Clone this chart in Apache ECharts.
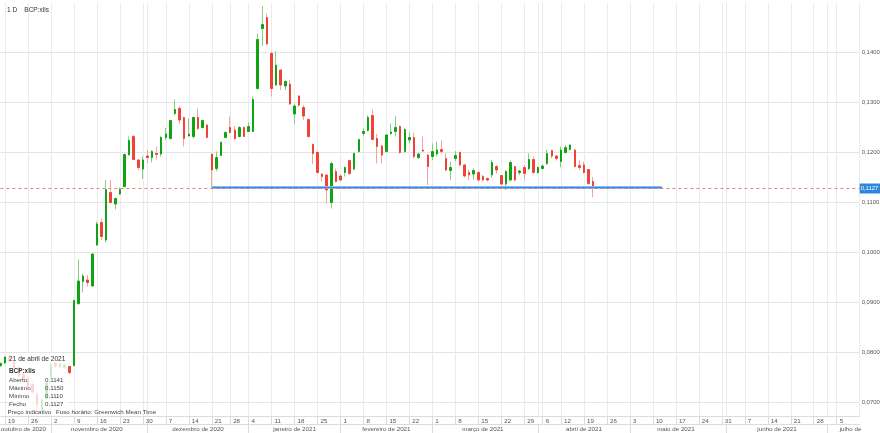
<!DOCTYPE html>
<html><head><meta charset="utf-8">
<script src="https://cdn.jsdelivr.net/npm/echarts@6/dist/echarts.min.js"></script>
<style>html,body{margin:0;padding:0;background:#fff}#c{width:880px;height:433px}</style>
</head><body><div id="c"></div>
<script>
// ---- data ----
const firstTradingDay = '2020-10-16';
const slotCount = 188;               // trading-day slots shown on the axis (incl. future days)
const holidays = ['2020-12-25', '2021-01-01', '2021-04-02', '2021-04-05'];
const symbolName = 'BCP:xlis';
const periodName = '1 D';
const monthNames = ['janeiro','fevereiro','março','abril','maio','junho','julho','agosto','setembro','outubro','novembro','dezembro'];

const opens = [0.0773,0.0778,0.0790,0.0780,0.0770,0.0755,0.0748,0.0735,0.0716,0.0684,
0.0708,0.0750,0.0777,0.0770,0.0769,0.0771,0.0773,0.0897,0.0941,0.0944,
0.0932,0.1014,0.1059,0.1024,0.1119,0.1096,0.1116,0.1131,0.1194,0.1231,
0.1184,0.1166,0.1192,0.1189,0.1197,0.1196,0.1229,0.1227,0.1277,0.1287,
0.1269,0.1232,0.1231,0.1269,0.1249,0.1254,0.1196,0.1167,0.1193,0.1229,
0.1249,0.1244,0.1231,0.1249,0.1241,0.1241,0.1327,0.1447,0.1469,0.1397,
0.1334,0.1364,0.1332,0.1336,0.1276,0.1312,0.1289,0.1265,0.1215,0.1199,
0.1156,0.1154,0.1099,0.1161,0.1152,0.1159,0.1183,0.1166,0.1201,0.1237,
0.1243,0.1273,0.1227,0.1212,0.1201,0.1237,0.1241,0.1251,0.1201,0.1224,
0.1229,0.1189,0.1204,0.1194,0.1191,0.1196,0.1205,0.1187,0.1163,0.1187,
0.1199,0.1174,0.1159,0.1156,0.1159,0.1151,0.1147,0.1154,0.1171,0.1153,
0.1136,0.1144,0.1171,0.1159,0.1169,0.1167,0.1185,0.1159,0.1167,0.1177,
0.1203,0.1192,0.1181,0.1199,0.1205,0.1204,0.1173,0.1174,0.1165,0.1141];
const closes = [0.0777,0.0790,0.0782,0.0768,0.0752,0.0745,0.0731,0.0720,0.0694,0.0704,
0.0738,0.0774,0.0772,0.0776,0.0774,0.0759,0.0903,0.0942,0.0952,0.0939,
0.0996,0.1056,0.1031,0.1125,0.1099,0.1107,0.1125,0.1195,0.1223,0.1185,
0.1169,0.1184,0.1189,0.1201,0.1195,0.1229,0.1236,0.1263,0.1285,0.1264,
0.1227,0.1236,0.1269,0.1247,0.1263,0.1229,0.1164,0.1189,0.1219,0.1239,
0.1239,0.1227,0.1249,0.1231,0.1251,0.1305,0.1425,0.1455,0.1416,0.1327,
0.1374,0.1334,0.1341,0.1296,0.1292,0.1294,0.1272,0.1231,0.1197,0.1159,
0.1151,0.1124,0.1177,0.1141,0.1144,0.1169,0.1157,0.1197,0.1225,0.1241,
0.1269,0.1225,0.1211,0.1194,0.1234,0.1240,0.1249,0.1199,0.1245,0.1229,
0.1191,0.1196,0.1202,0.1171,0.1201,0.1204,0.1201,0.1164,0.1169,0.1193,
0.1174,0.1152,0.1154,0.1163,0.1144,0.1144,0.1144,0.1179,0.1164,0.1136,
0.1161,0.1179,0.1144,0.1162,0.1157,0.1185,0.1159,0.1169,0.1172,0.1197,
0.1192,0.1187,0.1204,0.1209,0.1214,0.1171,0.1169,0.1159,0.1137,0.1127];
const lows = [0.0770,0.0776,0.0779,0.0765,0.0748,0.0741,0.0728,0.0716,0.0680,0.0680,
0.0704,0.0746,0.0768,0.0766,0.0766,0.0756,0.0771,0.0894,0.0919,0.0931,
0.0931,0.1012,0.1024,0.1019,0.1097,0.1085,0.1114,0.1129,0.1194,0.1184,
0.1164,0.1146,0.1177,0.1179,0.1185,0.1191,0.1224,0.1225,0.1274,0.1257,
0.1211,0.1231,0.1227,0.1244,0.1247,0.1229,0.1130,0.1161,0.1192,0.1228,
0.1237,0.1224,0.1229,0.1231,0.1240,0.1240,0.1325,0.1412,0.1414,0.1311,
0.1332,0.1324,0.1324,0.1294,0.1256,0.1290,0.1264,0.1229,0.1176,0.1157,
0.1141,0.1097,0.1087,0.1139,0.1142,0.1151,0.1155,0.1163,0.1199,0.1231,
0.1241,0.1224,0.1177,0.1177,0.1199,0.1234,0.1231,0.1197,0.1199,0.1217,
0.1187,0.1186,0.1200,0.1134,0.1184,0.1191,0.1197,0.1161,0.1144,0.1181,
0.1172,0.1149,0.1144,0.1144,0.1141,0.1141,0.1141,0.1149,0.1157,0.1134,
0.1124,0.1141,0.1141,0.1154,0.1143,0.1164,0.1157,0.1157,0.1165,0.1174,
0.1187,0.1183,0.1169,0.1197,0.1203,0.1169,0.1164,0.1157,0.1134,0.1110];
const highs = [0.0779,0.0792,0.0795,0.0783,0.0774,0.0758,0.0752,0.0740,0.0720,0.0708,
0.0742,0.0778,0.0781,0.0780,0.0777,0.0772,0.0905,0.0985,0.0956,0.0954,
0.0997,0.1061,0.1067,0.1144,0.1144,0.1109,0.1129,0.1197,0.1231,0.1234,
0.1186,0.1191,0.1204,0.1204,0.1211,0.1232,0.1248,0.1264,0.1305,0.1292,
0.1270,0.1267,0.1271,0.1287,0.1265,0.1256,0.1196,0.1201,0.1221,0.1241,
0.1271,0.1252,0.1252,0.1251,0.1259,0.1311,0.1437,0.1492,0.1477,0.1401,
0.1401,0.1365,0.1343,0.1344,0.1297,0.1314,0.1294,0.1267,0.1217,0.1201,
0.1157,0.1155,0.1181,0.1167,0.1155,0.1171,0.1185,0.1199,0.1227,0.1247,
0.1273,0.1285,0.1236,0.1214,0.1236,0.1257,0.1272,0.1253,0.1248,0.1239,
0.1239,0.1198,0.1231,0.1196,0.1217,0.1221,0.1224,0.1197,0.1181,0.1202,
0.1201,0.1176,0.1164,0.1167,0.1161,0.1154,0.1149,0.1184,0.1174,0.1154,
0.1164,0.1183,0.1172,0.1164,0.1174,0.1197,0.1191,0.1171,0.1175,0.1205,
0.1204,0.1194,0.1211,0.1214,0.1215,0.1207,0.1183,0.1181,0.1166,0.1150];

const supportLevel = 0.1129;
const supportFrom = '2020-12-21';
const supportTo = '2021-05-12';
const lastDateLabel = '21 de abril de 2021';
const infoLabels = ['Aberto', 'Máximo', 'Mínimo', 'Fecho'];

// ---- build the trading-day categories ----
function iso(d){ return d.toISOString().slice(0,10); }
const dates = [];
{
  const d = new Date(firstTradingDay + 'T00:00:00Z');
  while (dates.length < slotCount) {
    const dow = d.getUTCDay();
    const s = iso(d);
    if (dow !== 0 && dow !== 6 && holidays.indexOf(s) < 0) dates.push(s);
    d.setUTCDate(d.getUTCDate() + 1);
  }
}
const weekStarts = new Set(), monthStarts = new Set();
for (let i = 1; i < dates.length; i++) {
  const a = new Date(dates[i-1] + 'T00:00:00Z'), b = new Date(dates[i] + 'T00:00:00Z');
  if ((b - a) / 86400000 >= 3 || b.getUTCDay() < a.getUTCDay()) weekStarts.add(i);
  if (a.getUTCMonth() !== b.getUTCMonth()) monthStarts.add(i);
}
const gridSet = new Set([...weekStarts, ...monthStarts]);
const lastSlot = dates.length - 1;
// month labels centred in each month's span (the cut-off last month is shown partially)
const monthLabel = new Map();
{
  const bounds = [0, ...[...monthStarts].sort((a,b)=>a-b), dates.length];
  for (let k = 0; k < bounds.length - 1; k++) {
    const s = bounds[k], e = bounds[k+1];
    const d = new Date(dates[s] + 'T00:00:00Z');
    const cut = k === bounds.length - 2;
    const name = monthNames[d.getUTCMonth()] + ' de' + (cut ? '' : ' ' + d.getUTCFullYear());
    monthLabel.set(Math.floor((s + e) / 2) + (cut ? 1 : 0), name);
  }
}

const fmt = v => v.toFixed(4).replace('.', ',');
const n = opens.length - 1;
const wickData = opens.map((o,i) => [o, closes[i], lows[i], highs[i]]);
const bodyData = opens.map((o,i) => [o, closes[i], Math.min(o, closes[i]), Math.max(o, closes[i])]);
const supportData = [[dates.indexOf(supportFrom), supportLevel], [dates.indexOf(supportTo), supportLevel]];

const FONT = 'Liberation Sans, Arial, sans-serif';
const GREEN = '#12a312', RED = '#ee4336';
const axisGray = '#dcdcdc';

const chart = echarts.init(document.getElementById('c'), null, {renderer: 'canvas', width: 880, height: 433});
chart.setOption({
  animation: false,
  backgroundColor: '#ffffff',
  textStyle: {fontFamily: FONT},
  title: {
    text: periodName + '    ' + symbolName, left: 2, top: 2,
    textStyle: {fontSize: 6.5, fontWeight: 'normal', color: '#333', fontFamily: FONT}
  },
  grid: {left: 0.4, right: 20.3, top: 3, bottom: 17, containLabel: false, outerBoundsMode: 'none'},
  xAxis: [{
    type: 'category', data: dates, boundaryGap: false,
    axisLine: {show: true, lineStyle: {color: axisGray, width: 1}},
    axisTick: {show: true, length: 8, interval: i => weekStarts.has(i) && i < lastSlot, lineStyle: {color: axisGray}},
    axisLabel: {
      interval: i => weekStarts.has(i) && i < lastSlot,
      formatter: v => String(+v.slice(8)),
      align: 'left', padding: [0, 0, 0, 3], margin: 2,
      fontSize: 6.2, color: '#555', fontFamily: FONT
    },
    splitLine: {show: true, interval: i => gridSet.has(i), lineStyle: {color: '#ebebeb', width: 1}}
  }, {
    type: 'category', data: dates, boundaryGap: false, position: 'bottom', offset: 8,
    axisLine: {show: true, lineStyle: {color: axisGray, width: 1}},
    axisTick: {show: true, length: 9, interval: i => monthStarts.has(i), lineStyle: {color: axisGray}},
    axisLabel: {
      interval: i => monthLabel.has(i),
      formatter: (v, i) => monthLabel.get(i) || '',
      margin: 2, fontSize: 6.2, color: '#555', fontFamily: FONT
    },
    splitLine: {show: false}
  }],
  yAxis: {
    type: 'value', position: 'right', min: 0.0672, max: 0.1498, splitNumber: 8,
    axisLine: {show: false}, axisTick: {show: false},
    axisLabel: {
      margin: 2, fontSize: 5.9, color: '#555', fontFamily: FONT,
      showMinLabel: false, showMaxLabel: false, formatter: v => fmt(v)
    },
    splitLine: {show: true, showMinLine: false, showMaxLine: false, lineStyle: {color: '#e4e4e4', width: 1}}
  },
  series: [{
    name: 'wicks', type: 'candlestick', data: wickData, barWidth: 1,
    itemStyle: {color: '#86cf86', color0: '#f4a39d', borderColor: '#86cf86', borderColor0: '#f4a39d', borderWidth: 1},
    silent: true
  }, {
    name: symbolName, type: 'candlestick', data: bodyData, barWidth: 2,
    itemStyle: {color: GREEN, color0: RED, borderColor: GREEN, borderColor0: RED, borderWidth: 1},
    z: 3
  }, {
    name: 'lastPrice', type: 'line', data: [], symbol: 'none', silent: true,
    markLine: {
      silent: true, symbol: 'none', animation: false, precision: 4,
      data: [{yAxis: closes[n]}],
      lineStyle: {type: [3, 3], color: '#e8837b', width: 1},
      label: {
        position: 'end', distance: 0, formatter: fmt(closes[n]),
        backgroundColor: '#2f86dd', color: '#fff', padding: [2, 3, 2, 1],
        fontSize: 5.9, fontFamily: FONT
      },
      emphasis: {disabled: true}
    },
    z: 3
  }, {
    name: 'supportGlow', type: 'line', data: supportData, symbol: 'none', silent: true,
    lineStyle: {color: '#a8cdf3', width: 3.2}, z: 4
  }, {
    name: 'support', type: 'line', data: supportData, symbol: 'none', silent: true,
    lineStyle: {color: '#3a8ade', width: 1.5}, z: 5
  }],
  graphic: [
    {type: 'rect', z: 100, silent: true, shape: {x: 8, y: 353, width: 60, height: 63}, style: {fill: 'rgba(255,255,255,0.78)'}},
    {type: 'text', z: 101, x: 9, y: 359, style: {text: lastDateLabel, fill: '#333', font: '6.6px ' + FONT, verticalAlign: 'middle'}},
    {type: 'text', z: 101, x: 9, y: 371, style: {text: symbolName, fill: '#333', font: 'bold 6.4px ' + FONT, verticalAlign: 'middle'}},
    {type: 'text', z: 101, x: 9, y: 380, style: {text: infoLabels[0], fill: '#444', font: '6.2px ' + FONT, verticalAlign: 'middle'}},
    {type: 'text', z: 101, x: 45, y: 380, style: {text: fmt(opens[n]), fill: '#444', font: '6.2px ' + FONT, verticalAlign: 'middle'}},
    {type: 'text', z: 101, x: 9, y: 388.5, style: {text: infoLabels[1], fill: '#444', font: '6.2px ' + FONT, verticalAlign: 'middle'}},
    {type: 'text', z: 101, x: 45, y: 388.5, style: {text: fmt(highs[n]), fill: '#444', font: '6.2px ' + FONT, verticalAlign: 'middle'}},
    {type: 'text', z: 101, x: 9, y: 396.5, style: {text: infoLabels[2], fill: '#444', font: '6.2px ' + FONT, verticalAlign: 'middle'}},
    {type: 'text', z: 101, x: 45, y: 396.5, style: {text: fmt(lows[n]), fill: '#444', font: '6.2px ' + FONT, verticalAlign: 'middle'}},
    {type: 'text', z: 101, x: 9, y: 404.5, style: {text: infoLabels[3], fill: '#444', font: '6.2px ' + FONT, verticalAlign: 'middle'}},
    {type: 'text', z: 101, x: 45, y: 404.5, style: {text: fmt(closes[n]), fill: '#444', font: '6.2px ' + FONT, verticalAlign: 'middle'}},
    {type: 'text', z: 101, x: 7.5, y: 412.5, style: {text: 'Preço indicativo', fill: '#444', font: '6.2px ' + FONT, verticalAlign: 'middle'}},
    {type: 'text', z: 101, x: 56, y: 412.5, style: {text: 'Fuso horário: Greenwich Mean Time', fill: '#444', font: '6.2px ' + FONT, verticalAlign: 'middle'}}
  ]
});
</script>
</body></html>
